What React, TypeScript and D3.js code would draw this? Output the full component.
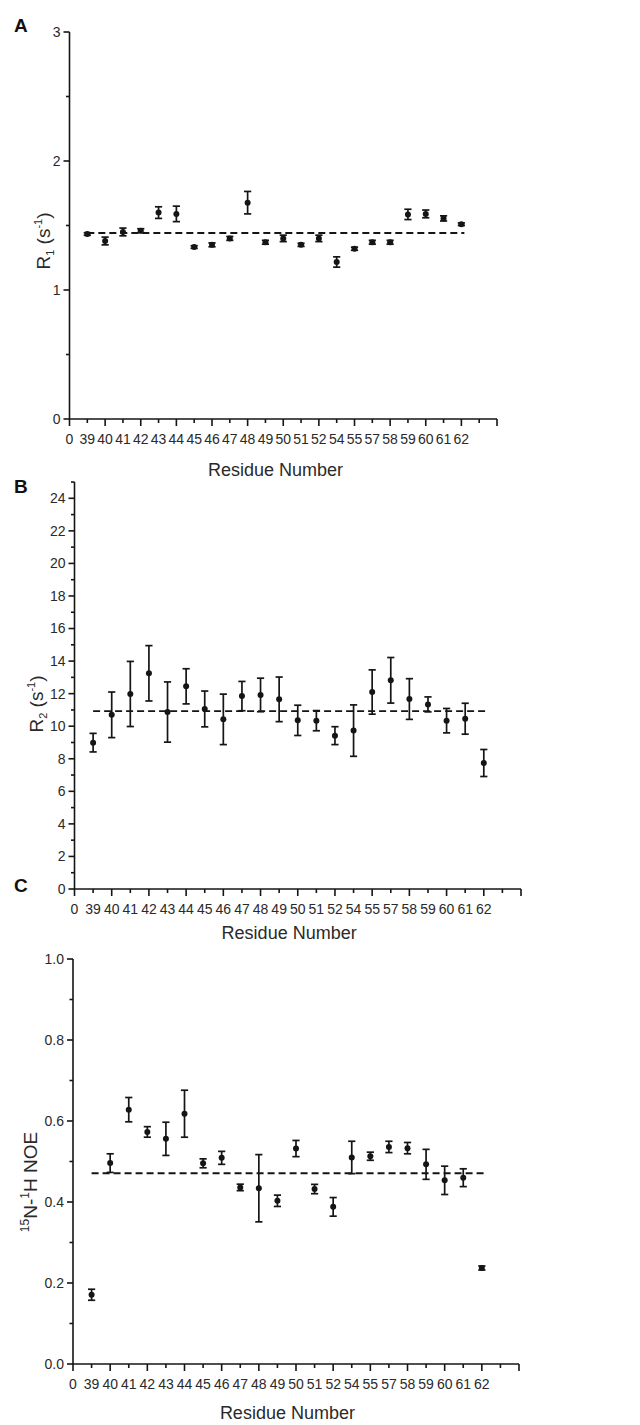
import React from "react";
import * as d3 from "d3";

// ---------- data ----------
const residues = [39, 40, 41, 42, 43, 44, 45, 46, 47, 48, 49, 50, 51, 52, 54, 55, 57, 58, 59, 60, 61, 62];
const xTickLabels = ["0", "39", "40", "41", "42", "43", "44", "45", "46", "47", "48", "49", "50", "51", "52", "54", "55", "57", "58", "59", "60", "61", "62"];

const r1Values = [1.434, 1.38, 1.45, 1.46, 1.6, 1.59, 1.333, 1.35, 1.4, 1.677, 1.37, 1.4, 1.35, 1.4, 1.217, 1.32, 1.37, 1.37, 1.586, 1.59, 1.555, 1.51];
const r1Errors = [0.01, 0.03, 0.03, 0.015, 0.045, 0.06, 0.01, 0.015, 0.015, 0.087, 0.015, 0.025, 0.012, 0.025, 0.04, 0.012, 0.015, 0.015, 0.04, 0.03, 0.02, 0.01];
const r1Mean = 1.442;

const r2Values = [8.99, 10.7, 11.98, 13.25, 10.87, 12.45, 11.06, 10.42, 11.85, 11.92, 11.65, 10.36, 10.34, 9.42, 9.73, 12.1, 12.82, 11.67, 11.34, 10.34, 10.46, 7.74];
const r2Errors = [0.57, 1.4, 2.0, 1.7, 1.85, 1.08, 1.1, 1.55, 0.9, 1.03, 1.37, 0.93, 0.62, 0.55, 1.58, 1.36, 1.4, 1.25, 0.46, 0.75, 0.95, 0.83];
const r2Mean = 10.93;

const noeValues = [0.171, 0.496, 0.628, 0.573, 0.556, 0.618, 0.4955, 0.509, 0.436, 0.434, 0.403, 0.532, 0.432, 0.388, 0.51, 0.513, 0.536, 0.533, 0.493, 0.4535, 0.46, 0.237];
const noeErrors = [0.0136, 0.023, 0.03, 0.013, 0.041, 0.058, 0.011, 0.016, 0.008, 0.083, 0.014, 0.02, 0.0115, 0.023, 0.04, 0.01, 0.014, 0.014, 0.037, 0.035, 0.022, 0.005];
const noeMean = 0.471;

const r1YTicks = [0, 1, 2, 3];
const r2YTicks = [0, 2, 4, 6, 8, 10, 12, 14, 16, 18, 20, 22, 24];
const noeYTicks = [0, 0.2, 0.4, 0.6, 0.8, 1.0];

const FONT = "'Liberation Sans', Arial, Helvetica, sans-serif";
const TEXT = "#2a2a2a";
const INK = "#151515";

type PanelProps = {
  letter: string;
  letterY: number;
  x0: number;
  x1: number;
  yBottom: number;
  yTop: number;
  yMax: number;
  yAxisMax: number;
  yTicks: number[];
  yMinorStep: number;
  yFmt: (v: number) => string;
  values: number[];
  errors: number[];
  mean: number;
  xTitleY: number;
  yTitle: React.ReactNode;
  yTitleX: number;
  yTitleY: number;
};

function Panel(p: PanelProps) {
  const x = d3.scaleLinear().domain([0, 24]).range([p.x0, p.x1]);
  const y = d3.scaleLinear().domain([0, p.yMax]).range([p.yBottom, p.yTop]);
  const xTicks = d3.range(0, 25);
  const nMinor = Math.round(p.yAxisMax / p.yMinorStep);
  const yMinor = d3.range(0, nMinor + 1).map((i) => i * p.yMinorStep).filter((v) => !p.yTicks.some((t) => Math.abs(t - v) < 1e-9));
  const idx = (i: number) => i + 1;
  const capW = 3.6;
  return (
    <g>
      <text x={14} y={p.letterY} fontFamily={FONT} fontWeight="bold" fontSize={19} fill="#111">
        {p.letter}
      </text>
      {/* y axis */}
      <line x1={p.x0} x2={p.x0} y1={y(0)} y2={y(p.yAxisMax)} stroke={INK} strokeWidth={1.6} />
      {p.yTicks.map((t) => (
        <g key={"yt" + t}>
          <line x1={p.x0 - 6} x2={p.x0} y1={y(t)} y2={y(t)} stroke={INK} strokeWidth={1.6} />
          <text x={p.x0 - 9} y={y(t)} dy="0.35em" textAnchor="end" fontFamily={FONT} fontSize={14} fill={TEXT}>
            {p.yFmt(t)}
          </text>
        </g>
      ))}
      {yMinor.map((t) => (
        <line key={"ym" + t} x1={p.x0 - 3.5} x2={p.x0} y1={y(t)} y2={y(t)} stroke={INK} strokeWidth={1.6} />
      ))}
      {/* x axis */}
      <line x1={p.x0} x2={p.x1} y1={y(0)} y2={y(0)} stroke={INK} strokeWidth={1.6} />
      {xTicks.map((t) => (
        <line key={"xt" + t} x1={x(t)} x2={x(t)} y1={y(0)} y2={y(0) + (t % 2 === 0 ? 7 : 4)} stroke={INK} strokeWidth={1.6} />
      ))}
      {xTickLabels.map((lab, i) => (
        <text key={"xl" + i} x={x(i)} y={y(0) + 25} textAnchor="middle" fontFamily={FONT} fontSize={14} fill={TEXT}>
          {lab}
        </text>
      ))}
      <text x={(p.x0 + x(22)) / 2 + 10} y={p.xTitleY} textAnchor="middle" fontFamily={FONT} fontSize={18} fill={TEXT}>
        Residue Number
      </text>
      <text transform={`translate(${p.yTitleX},${p.yTitleY}) rotate(-90)`} textAnchor="middle" fontFamily={FONT} fontSize={19} fill={TEXT}>
        {p.yTitle}
      </text>
      {/* mean dashed line */}
      <line x1={x(1)} x2={x(22) + 3} y1={y(p.mean)} y2={y(p.mean)} stroke={INK} strokeWidth={1.8} strokeDasharray="7,4" />
      {/* error bars + points */}
      {residues.map((r, i) => {
        const cx = x(idx(i));
        const lo = y(p.values[i] - p.errors[i]);
        const hi = y(p.values[i] + p.errors[i]);
        return (
          <g key={"pt" + r}>
            <line x1={cx} x2={cx} y1={lo} y2={hi} stroke={INK} strokeWidth={1.7} />
            <line x1={cx - capW} x2={cx + capW} y1={lo} y2={lo} stroke={INK} strokeWidth={1.7} />
            <line x1={cx - capW} x2={cx + capW} y1={hi} y2={hi} stroke={INK} strokeWidth={1.7} />
            <circle cx={cx} cy={y(p.values[i])} r={3} fill={INK} />
          </g>
        );
      })}
    </g>
  );
}

export default function App() {
  return (
    <svg width={640} height={1425} style={{ position: "absolute", left: 0, top: 0, display: "block", background: "#fff" }}>
      <rect width={640} height={1425} fill="#fff" />
      <Panel
        letter="A"
        letterY={32}
        x0={69.5}
        x1={497}
        yBottom={419}
        yTop={32}
        yMax={3}
        yAxisMax={3}
        yTicks={r1YTicks}
        yMinorStep={0.5}
        yFmt={(v) => String(v)}
        values={r1Values}
        errors={r1Errors}
        mean={r1Mean}
        xTitleY={476}
        yTitle={
          <>
            <tspan>R</tspan>
            <tspan fontSize={11} dy={4}>1</tspan>
            <tspan dy={-4}> (s</tspan>
            <tspan fontSize={11} dy={-8}>-1</tspan>
            <tspan dy={8}>)</tspan>
          </>
        }
        yTitleX={50}
        yTitleY={241}
      />
      <Panel
        letter="B"
        letterY={493}
        x0={74.5}
        x1={521}
        yBottom={889}
        yTop={498.3}
        yMax={24}
        yAxisMax={25}
        yTicks={r2YTicks}
        yMinorStep={1}
        yFmt={(v) => String(v)}
        values={r2Values}
        errors={r2Errors}
        mean={r2Mean}
        xTitleY={939}
        yTitle={
          <>
            <tspan>R</tspan>
            <tspan fontSize={11} dy={4}>2</tspan>
            <tspan dy={-4}> (s</tspan>
            <tspan fontSize={11} dy={-8}>-1</tspan>
            <tspan dy={8}>)</tspan>
          </>
        }
        yTitleX={43}
        yTitleY={704}
      />
      <Panel
        letter="C"
        letterY={892}
        x0={73}
        x1={519}
        yBottom={1364}
        yTop={959}
        yMax={1}
        yAxisMax={1}
        yTicks={noeYTicks}
        yMinorStep={0.1}
        yFmt={(v) => v.toFixed(1)}
        values={noeValues}
        errors={noeErrors}
        mean={noeMean}
        xTitleY={1419}
        yTitle={
          <>
            <tspan fontSize={12} dy={-8}>15</tspan>
            <tspan dy={8}>N-</tspan>
            <tspan fontSize={12} dy={-8}>1</tspan>
            <tspan dy={8}>H NOE</tspan>
          </>
        }
        yTitleX={37}
        yTitleY={1182}
      />
    </svg>
  );
}
